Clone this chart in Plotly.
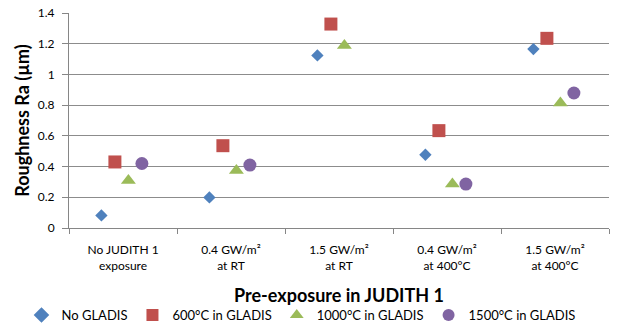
import plotly.graph_objects as go

categories = ["No JUDITH 1<br>exposure", "0.4 GW/m²<br>at RT", "1.5 GW/m²<br>at RT",
              "0.4 GW/m²<br>at 400°C", "1.5 GW/m²<br>at 400°C"]
series_names = ["No GLADIS", "600°C in GLADIS", "1000°C in GLADIS", "1500°C in GLADIS"]
no_gladis = [0.082, 0.199, 1.124, 0.477, 1.165]
gladis_600 = [0.43, 0.536, 1.328, 0.634, 1.235]
gladis_1000 = [0.309, 0.375, 1.189, 0.286, 0.814]
gladis_1500 = [0.42, 0.41, None, 0.286, 0.879]
y_ticks = [0, 0.2, 0.4, 0.6, 0.8, 1, 1.2, 1.4]
y_tick_labels = ["0", "0.2", "0.4", "0.6", "0.8", "1", "1.2", "1.4"]

values = [no_gladis, gladis_600, gladis_1000, gladis_1500]
colors = ["#4F81BD", "#C0504D", "#9BBB59", "#8064A2"]
symbols = ["diamond", "square", "triangle-up", "circle"]
sizes = [9.5, 13, 13, 13]
offsets = [-0.2, -0.075, 0.05, 0.175]

fig = go.Figure()
for name, vals, c, s, sz, off in zip(series_names, values, colors, symbols, sizes, offsets):
    xs = [i + 1 + off for i in range(len(categories))]
    fig.add_trace(go.Scatter(
        x=xs, y=vals, mode="markers", name=name,
        marker=dict(color=c, symbol=s, size=sz, line=dict(width=0)),
    ))

# invisible trace on secondary axis to show category boundary ticks
fig.add_trace(go.Scatter(x=[0.5, 5.5], y=[None, None], xaxis="x2", showlegend=False,
                         hoverinfo="skip", mode="markers"))

font_family = "Lato, 'Open Sans', sans-serif"
fig.update_layout(
    width=617, height=327,
    margin=dict(l=69, r=8, t=13, b=99, autoexpand=False),
    paper_bgcolor="white", plot_bgcolor="white",
    font=dict(family=font_family, size=12, color="#000000"),
    xaxis=dict(
        range=[0.5, 5.5], tickvals=[1, 2, 3, 4, 5], ticktext=categories,
        showgrid=False, zeroline=False, showline=True, linecolor="#868686", linewidth=1,
        ticks="outside", ticklen=11, tickcolor="rgba(0,0,0,0)", tickfont=dict(size=12),
        title=dict(text="<b>Pre-exposure in JUDITH 1</b>", font=dict(size=18), standoff=17),
    ),
    xaxis2=dict(
        overlaying="x", matches="x", range=[0.5, 5.5],
        tickvals=[0.5, 1.5, 2.5, 3.5, 4.5, 5.5], ticktext=[""] * 6,
        ticks="outside", ticklen=5, tickcolor="#868686", showgrid=False,
        zeroline=False, showline=False, side="bottom",
    ),
    yaxis=dict(
        range=[0, 1.4], tickvals=y_ticks, ticktext=y_tick_labels,
        showgrid=True, gridcolor="#8C8C8C", gridwidth=1, zeroline=False,
        showline=True, linecolor="#868686", linewidth=1,
        ticks="outside", ticklen=6, tickcolor="#868686", tickfont=dict(size=12),
        ticklabelstandoff=5,
        title=dict(text="<b>Roughness Ra (µm)</b>", font=dict(size=18), standoff=3),
    ),
    legend=dict(orientation="h", x=-0.088, xanchor="left", y=-0.335, yanchor="top",
                font=dict(size=13), itemwidth=30, tracegroupgap=0,
                itemsizing="constant"),
)

fig.write_html("out.html", post_script="document.body.style.margin='0';",
               config={"displayModeBar": False})
